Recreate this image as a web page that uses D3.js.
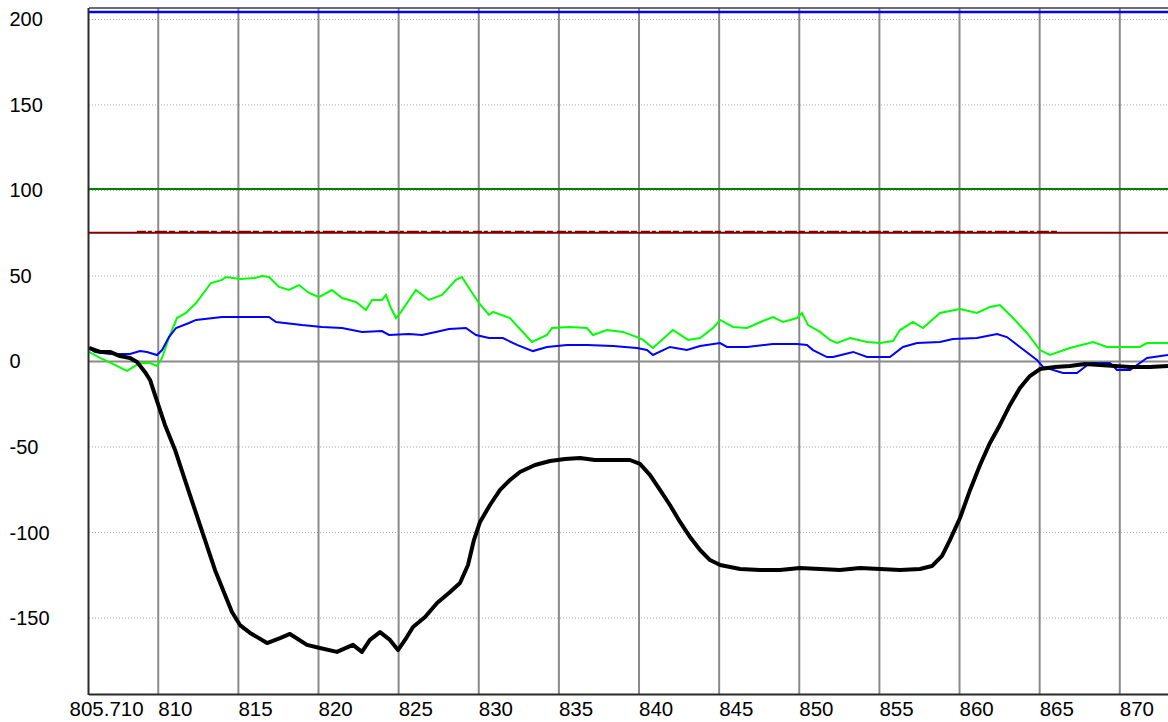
<!DOCTYPE html>
<html>
<head>
<meta charset="utf-8">
<script src="https://cdn.jsdelivr.net/npm/d3@7"></script>
<style>
  html, body { margin: 0; padding: 0; background: #ffffff; }
  svg { display: block; }
  text { font-family: "Liberation Sans", Arial, sans-serif; fill: #000; }
</style>
</head>
<body>
<svg id="chart" width="1168" height="722"></svg>
<script>
// ---- data ----
const xTicks = [805.71, 810, 815, 820, 825, 830, 835, 840, 845, 850, 855, 860, 865, 870];
const yTicks = [200, 150, 100, 50, 0, -50, -100, -150];

// constant reference levels
const topLevel = 204;
const greenLevel = 100.6;
const redLevel = 75;
const redNoiseSpan = [808.7, 866.3];

// light green trace
const greenT = [805.71, 806.40, 807.33, 808.08, 808.89, 809.52, 809.95, 810.27, 810.76, 811.20, 811.76, 812.39, 813.32, 814.01, 814.26, 815.13, 816.07, 816.51, 816.94, 817.57, 818.19, 818.81, 819.44, 820.06, 820.87, 821.50, 822.37, 822.99, 823.37, 823.99, 824.24, 824.55, 824.87, 825.18, 826.11, 826.92, 827.74, 828.61, 828.98, 829.42, 830.04, 830.67, 830.92, 831.98, 833.35, 834.29, 834.60, 835.72, 836.78, 837.16, 838.03, 839.03, 839.90, 840.28, 840.90, 842.15, 843.09, 843.84, 844.65, 845.09, 845.90, 846.77, 847.77, 848.39, 849.02, 849.89, 850.20, 850.58, 851.33, 851.95, 852.39, 853.20, 854.26, 855.07, 855.88, 856.32, 857.13, 857.75, 858.81, 860.06, 861.12, 861.93, 862.55, 863.37, 864.24, 865.05, 865.67, 866.92, 868.36, 869.23, 871.29, 871.73, 873.04];
const greenV = [5.3, 1.8, -2.3, -5.8, -1.2, -1.2, -2.9, 1.8, 15.2, 25.1, 28.1, 33.9, 45.6, 47.4, 49.1, 47.9, 48.5, 49.7, 49.1, 43.3, 41.5, 44.4, 39.8, 37.4, 41.5, 36.8, 34.5, 29.8, 35.7, 35.7, 38.6, 31.0, 25.1, 28.7, 41.5, 35.7, 38.6, 47.4, 49.1, 42.7, 33.9, 26.9, 28.7, 25.1, 11.1, 15.2, 19.3, 19.9, 19.3, 15.2, 18.1, 17.0, 14.0, 12.3, 7.6, 18.1, 12.3, 13.4, 19.3, 24.0, 19.9, 19.3, 23.4, 25.7, 22.8, 25.1, 28.1, 21.0, 17.0, 12.3, 10.5, 13.4, 11.1, 10.5, 11.7, 18.1, 22.8, 19.3, 28.1, 30.4, 28.1, 31.6, 32.7, 25.1, 16.4, 6.4, 3.5, 7.6, 11.1, 8.2, 8.2, 10.5, 10.5];

// blue trace
const blueT = [805.71, 806.08, 807.02, 808.27, 808.89, 809.33, 809.95, 810.27, 810.70, 811.14, 811.95, 812.39, 814.01, 815.69, 816.94, 817.38, 819.00, 820.25, 821.50, 822.75, 823.99, 824.43, 825.68, 826.49, 827.36, 828.17, 829.23, 829.86, 830.67, 831.54, 832.42, 833.41, 834.29, 835.54, 836.78, 838.41, 839.90, 840.53, 840.90, 841.96, 843.02, 843.84, 845.09, 845.52, 846.77, 848.39, 849.89, 850.51, 850.89, 851.76, 852.14, 853.39, 854.26, 855.69, 856.50, 857.38, 858.81, 859.62, 861.12, 862.37, 862.99, 863.80, 864.86, 865.24, 866.49, 867.36, 868.17, 869.42, 869.86, 870.67, 871.73, 873.04];
const blueV = [7.6, 5.3, 4.1, 4.1, 5.8, 5.3, 3.5, 6.4, 14.0, 19.3, 22.2, 24.0, 25.7, 25.7, 25.7, 22.8, 21.0, 19.9, 19.3, 17.0, 17.5, 15.2, 15.8, 15.2, 17.0, 18.7, 19.3, 15.2, 13.4, 13.4, 9.4, 5.8, 8.2, 9.4, 9.4, 8.8, 7.6, 6.4, 3.5, 8.2, 6.4, 8.8, 10.5, 8.2, 8.2, 9.9, 9.9, 9.4, 6.4, 2.3, 2.3, 5.3, 2.3, 2.3, 8.2, 10.5, 11.1, 12.9, 13.4, 15.8, 14.0, 8.2, 0.6, -3.5, -7.0, -7.0, -1.2, -1.2, -5.3, -5.3, 1.8, 3.5];

// black trace
const blackT = [805.71, 806.40, 807.02, 807.64, 808.27, 808.71, 809.20, 809.52, 809.83, 810.45, 811.08, 811.70, 812.32, 812.95, 813.57, 814.20, 814.63, 815.13, 815.76, 816.82, 817.63, 818.25, 819.31, 820.12, 821.18, 822.18, 822.74, 823.24, 823.87, 824.49, 824.99, 825.43, 825.93, 826.68, 827.43, 828.24, 828.86, 829.36, 829.73, 830.11, 830.73, 831.36, 831.98, 832.60, 833.54, 834.48, 835.41, 836.35, 837.28, 838.22, 839.47, 840.09, 840.72, 841.34, 841.96, 842.59, 843.21, 843.84, 844.46, 845.09, 846.34, 847.58, 848.83, 850.08, 851.33, 852.57, 853.82, 855.07, 856.32, 857.56, 858.31, 858.94, 859.43, 860.06, 860.69, 861.31, 861.93, 862.55, 863.18, 863.80, 864.42, 865.05, 865.98, 866.92, 867.85, 868.79, 869.73, 870.67, 871.91, 873.04];
const blackV = [7.6, 5.3, 5.3, 2.9, 1.8, -0.6, -6.4, -11.1, -19.9, -37.4, -52.0, -69.6, -87.1, -104.7, -122.2, -136.8, -146.8, -154.4, -159.0, -164.9, -162.0, -159.6, -166.0, -167.8, -170.1, -166.0, -170.1, -163.1, -158.5, -163.1, -169.0, -163.1, -155.5, -149.7, -141.5, -135.1, -129.8, -119.3, -104.7, -94.1, -84.2, -75.4, -69.6, -64.9, -60.8, -58.5, -57.3, -56.7, -57.9, -57.9, -57.9, -60.2, -66.7, -75.4, -84.2, -94.1, -102.9, -110.5, -116.4, -119.3, -121.6, -122.2, -122.2, -121.0, -121.6, -122.2, -121.0, -121.6, -122.2, -121.6, -119.9, -114.0, -104.7, -91.8, -75.4, -60.8, -47.9, -37.4, -25.7, -15.8, -8.8, -4.7, -3.5, -2.9, -1.8, -2.3, -2.9, -3.5, -3.5, -2.9];

// ---- layout ----
const svg = d3.select("#chart");
const plot = { left: 89, top: 8, right: 1168, bottom: 695 };

const x = d3.scaleLinear().domain([805.71, 873.04]).range([plot.left, plot.right]);
const y = d3.scaleLinear().domain([-195.3, 206.4]).range([plot.bottom, plot.top]);

svg.append("defs").append("clipPath").attr("id", "plotClip")
  .append("rect")
  .attr("x", plot.left).attr("y", plot.top)
  .attr("width", plot.right - plot.left).attr("height", plot.bottom - plot.top);

// horizontal grid: dotted, zero line solid
const yGrid = svg.append("g")
  .attr("transform", `translate(${plot.left},0)`)
  .call(d3.axisLeft(y).tickValues(yTicks).tickSize(-(plot.right - plot.left)).tickFormat(""));
yGrid.select(".domain").remove();
yGrid.selectAll(".tick line")
  .attr("stroke", d => d === 0 ? "#8a8a8a" : "#a8a8a8")
  .attr("stroke-width", d => d === 0 ? 2 : 1)
  .attr("stroke-dasharray", d => d === 0 ? null : "1,2");

// vertical grid: solid
const xGrid = svg.append("g")
  .attr("transform", `translate(0,${plot.bottom})`)
  .call(d3.axisBottom(x).tickValues(xTicks.slice(1)).tickSize(-(plot.bottom - plot.top)).tickFormat(""));
xGrid.select(".domain").remove();
xGrid.selectAll(".tick line").attr("stroke", "#8a8a8a").attr("stroke-width", 2);

// ---- series ----
const series = svg.append("g").attr("clip-path", "url(#plotClip)");
const line = d3.line().x(d => x(d[0])).y(d => y(d[1]));
const [x0, x1] = x.domain();

series.append("path")
  .datum([[x0, greenLevel], [x1, greenLevel]])
  .attr("d", line).attr("fill", "none").attr("stroke", "#008000").attr("stroke-width", 2);

series.append("path")
  .datum([[x0, redLevel], [x1, redLevel]])
  .attr("d", line).attr("fill", "none").attr("stroke", "#800000").attr("stroke-width", 2);
series.append("path")
  .datum([[redNoiseSpan[0], redLevel + 0.6], [redNoiseSpan[1], redLevel + 0.6]])
  .attr("d", line).attr("fill", "none").attr("stroke", "#800000")
  .attr("stroke-width", 2).attr("stroke-dasharray", "9,2,4,3,12,2,6,4");

series.append("path")
  .datum([[x0, topLevel], [x1, topLevel]])
  .attr("d", line).attr("fill", "none").attr("stroke", "#0000ff").attr("stroke-width", 2.5);

const zip = (t, v) => t.map((d, i) => [d, v[i]]);

series.append("path")
  .datum(zip(greenT, greenV))
  .attr("d", line).attr("fill", "none")
  .attr("stroke", "#00ff00").attr("stroke-width", 2);

series.append("path")
  .datum(zip(blueT, blueV))
  .attr("d", line)
  .attr("fill", "none").attr("stroke", "#0000ff").attr("stroke-width", 2);

series.append("path")
  .datum(zip(blackT, blackV))
  .attr("d", line)
  .attr("fill", "none").attr("stroke", "#000000").attr("stroke-width", 4)
  .attr("stroke-linejoin", "round");

// ---- frame ----
svg.append("line")
  .attr("x1", plot.left).attr("x2", plot.right)
  .attr("y1", plot.top).attr("y2", plot.top)
  .attr("stroke", "#3c3c3c").attr("stroke-width", 1.5);

// ---- axes ----
const yAxis = svg.append("g")
  .attr("transform", `translate(${plot.left - 0.5},0)`)
  .call(d3.axisLeft(y).tickValues(yTicks).tickSize(0).tickFormat(d => String(d)));
yAxis.select(".domain")
  .attr("d", `M0,${plot.top}V${plot.bottom}`)
  .attr("stroke", "#2a2a2a").attr("stroke-width", 2);
yAxis.selectAll(".tick text")
  .attr("x", 10 - plot.left)
  .attr("dy", "0.35em")
  .attr("text-anchor", "start")
  .style("font-size", "20px")
  .style("font-family", "'Liberation Sans', Arial, sans-serif");

const xAxis = svg.append("g")
  .attr("transform", `translate(0,${plot.bottom - 0.5})`)
  .call(d3.axisBottom(x).tickValues(xTicks).tickSize(0)
    .tickFormat(d => d === 805.71 ? "805.710" : String(d)));
xAxis.select(".domain")
  .attr("d", `M${plot.left},0H${plot.right}`)
  .attr("stroke", "#2a2a2a").attr("stroke-width", 2);
xAxis.selectAll(".tick text")
  .attr("y", 21)
  .attr("dy", 0)
  .attr("x", d => d === 805.71 ? -20 : 0)
  .attr("text-anchor", "start")
  .style("font-size", "20.5px")
  .style("font-family", "'Liberation Sans', Arial, sans-serif");
</script>
</body>
</html>
